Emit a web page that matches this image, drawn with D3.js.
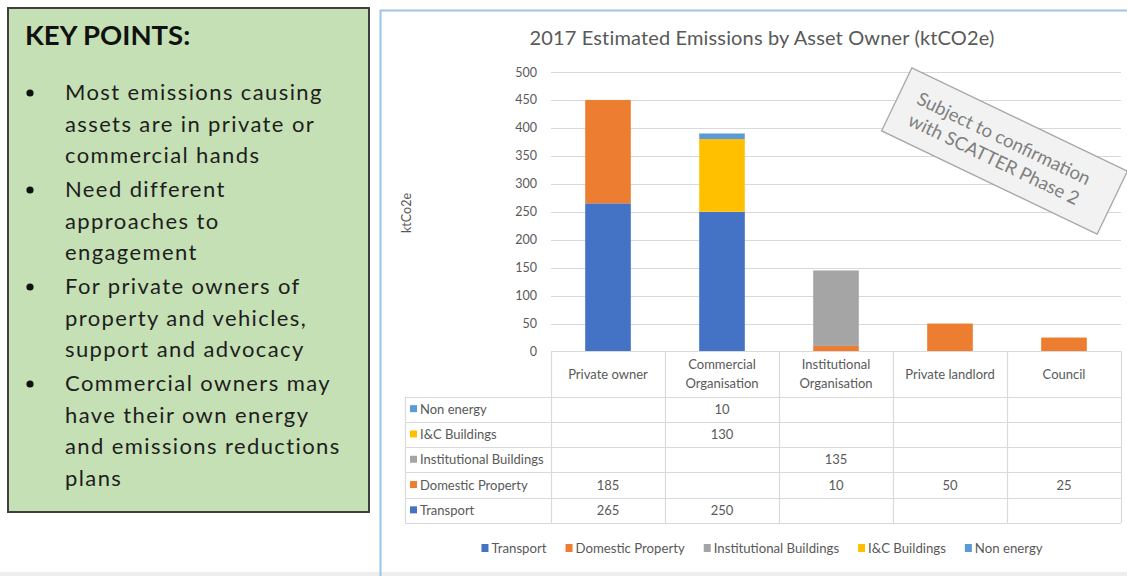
<!DOCTYPE html>
<html>
<head>
<meta charset="utf-8">
<script src="https://cdn.jsdelivr.net/npm/d3@7"></script>
<style>
  html, body { margin: 0; padding: 0; background: #ffffff; }
  svg { display: block; }
  text { font-family: Lato, "Open Sans", sans-serif; }
</style>
</head>
<body>
<svg id="chart" width="1127" height="576"></svg>
<script>
// ---------- DATA ----------
const categories = ["Private owner", "Commercial Organisation", "Institutional Organisation", "Private landlord", "Council"];
const categoryLabelLines = [["Private owner"], ["Commercial", "Organisation"], ["Institutional", "Organisation"], ["Private landlord"], ["Council"]];
const seriesNames = ["Transport", "Domestic Property", "Institutional Buildings", "I&C Buildings", "Non energy"];
const seriesColors = ["#4472c4", "#ed7d31", "#a5a5a5", "#ffc000", "#5b9bd5"];
const transport = [265, 250, null, null, null];
const domesticProperty = [185, null, 10, 50, 25];
const institutionalBuildings = [null, null, 135, null, null];
const icBuildings = [null, 130, null, null, null];
const nonEnergy = [null, 10, null, null, null];
const yTicks = [0, 50, 100, 150, 200, 250, 300, 350, 400, 450, 500];
const chartTitle = "2017 Estimated Emissions by Asset Owner (ktCO2e)";
const yAxisTitle = "ktCo2e";
const stampLines = ["Subject to confirmation", "with SCATTER Phase 2"];
const keyPointsTitle = "KEY POINTS:";
const keyPoints = [
  ["Most emissions causing", "assets are in private or", "commercial hands"],
  ["Need different", "approaches to", "engagement"],
  ["For private owners of", "property and vehicles,", "support and advocacy"],
  ["Commercial owners may", "have their own energy", "and emissions reductions", "plans"]
];

const seriesValues = [transport, domesticProperty, institutionalBuildings, icBuildings, nonEnergy];

// ---------- SETUP ----------
const svg = d3.select("#chart");
const textColor = "#595959";
const gridColor = "#d9d9d9";
const smallFont = 13.2;

// bottom grey strip of the page
svg.append("rect").attr("x", 0).attr("y", 572).attr("width", 1127).attr("height", 4).attr("fill", "#eeeeee");

// ---------- LEFT KEY POINTS BOX ----------
const kp = svg.append("g");
kp.append("rect").attr("x", 8).attr("y", 8).attr("width", 361).attr("height", 504)
  .attr("fill", "#c5e0b4").attr("stroke", "#3f3f3f").attr("stroke-width", 2);
kp.append("text").attr("x", 25).attr("y", 45).text(keyPointsTitle)
  .attr("font-size", 27.5).attr("font-weight", "bold").attr("fill", "#111");
let by = 100;
const lineH = 31.5, paraGap = 2.5;
keyPoints.forEach(para => {
  kp.append("circle").attr("cx", 30).attr("cy", by - 7).attr("r", 3.6).attr("fill", "#111");
  para.forEach((ln, i) => {
    kp.append("text").attr("x", 65).attr("y", by).text(ln)
      .attr("font-size", 22).attr("letter-spacing", 1.4).attr("fill", "#1e1e1e");
    by += lineH;
  });
  by += paraGap;
});

// ---------- CHART PANEL ----------
const panel = svg.append("g");
panel.append("line").attr("x1", 380).attr("x2", 1127).attr("y1", 10.5).attr("y2", 10.5)
  .attr("stroke", "#9dc3e6").attr("stroke-width", 2);
panel.append("line").attr("x1", 380.5).attr("x2", 380.5).attr("y1", 10).attr("y2", 576)
  .attr("stroke", "#9dc3e6").attr("stroke-width", 2);

panel.append("text").attr("x", 762).attr("y", 45).attr("text-anchor", "middle")
  .attr("font-size", 20).attr("letter-spacing", 0.15).attr("fill", textColor).text(chartTitle);

const plotLeft = 551, plotRight = 1121, plotTop = 72, plotBottom = 351.5;
const x = d3.scaleBand().domain(categories).range([plotLeft, plotRight]).paddingInner(0.6).paddingOuter(0.3);
const y = d3.scaleLinear().domain([0, 500]).range([plotBottom, plotTop]);

// gridlines
panel.append("g").selectAll("line").data(yTicks.filter(t => t > 0)).join("line")
  .attr("x1", plotLeft).attr("x2", plotRight)
  .attr("y1", d => Math.round(y(d)) + 0.5).attr("y2", d => Math.round(y(d)) + 0.5)
  .attr("stroke", gridColor).attr("stroke-width", 1.2);

// y axis labels
const yAxis = d3.axisLeft(y).tickValues(yTicks).tickSize(0).tickPadding(14);
const yg = panel.append("g").attr("transform", `translate(${plotLeft},0)`).call(yAxis);
yg.select(".domain").remove();
yg.selectAll("text").attr("font-size", 12.5).attr("fill", textColor).attr("font-family", "Lato, sans-serif");

panel.append("text").attr("transform", "translate(411,213) rotate(-90)")
  .attr("text-anchor", "middle").attr("font-size", 12.5).attr("fill", textColor).text(yAxisTitle);

// stacked bars
const rows = categories.map((c, i) => {
  const o = { category: c };
  seriesNames.forEach((s, j) => { o[s] = seriesValues[j][i] || 0; });
  return o;
});
const stack = d3.stack().keys(seriesNames)(rows);
const barG = panel.append("g");
stack.forEach((layer, j) => {
  barG.append("g").attr("fill", seriesColors[j]).selectAll("rect")
    .data(layer.filter(d => d[1] - d[0] > 0)).join("rect")
    .attr("x", d => x(d.data.category))
    .attr("width", x.bandwidth())
    .attr("y", d => y(d[1]))
    .attr("height", d => y(d[0]) - y(d[1]));
});

// ---------- DATA TABLE ----------
const tableLeft = 405, headerTop = plotBottom, headerBottom = 396.5, rowH = 25.3;
const tableRows = seriesNames.slice().reverse();
const tableBottom = headerBottom + rowH * tableRows.length;
const tg = panel.append("g");
const colEdges = categories.map(c => x(c) - x.step() * x.paddingInner() / 2).concat([plotRight]);
colEdges.forEach(xe => {
  tg.append("line").attr("x1", Math.round(xe) + 0.5).attr("x2", Math.round(xe) + 0.5)
    .attr("y1", headerTop).attr("y2", tableBottom).attr("stroke", gridColor).attr("stroke-width", 1.2);
});
tg.append("line").attr("x1", tableLeft + 0.5).attr("x2", tableLeft + 0.5)
  .attr("y1", headerBottom).attr("y2", tableBottom).attr("stroke", gridColor).attr("stroke-width", 1.2);
tg.append("line").attr("x1", plotLeft).attr("x2", plotRight).attr("y1", headerTop).attr("y2", headerTop)
  .attr("stroke", gridColor).attr("stroke-width", 1.2);
d3.range(tableRows.length + 1).forEach(k => {
  const yy = Math.round(headerBottom + k * rowH) + 0.5;
  tg.append("line").attr("x1", tableLeft).attr("x2", plotRight).attr("y1", yy).attr("y2", yy)
    .attr("stroke", gridColor).attr("stroke-width", 1.2);
});
categories.forEach((c, i) => {
  const lines = categoryLabelLines[i];
  const cx = x(c) + x.bandwidth() / 2;
  const cy = (headerTop + headerBottom) / 2;
  lines.forEach((ln, k) => {
    tg.append("text").attr("x", cx).attr("y", cy + (k - (lines.length - 1) / 2) * 18.5)
      .attr("dy", "0.35em").attr("text-anchor", "middle")
      .attr("font-size", 13).attr("fill", textColor).text(ln);
  });
});
tableRows.forEach((s, r) => {
  const j = seriesNames.indexOf(s);
  const cy = headerBottom + r * rowH + rowH / 2;
  tg.append("rect").attr("x", 410).attr("y", cy - 4).attr("width", 7).attr("height", 7).attr("fill", seriesColors[j]);
  tg.append("text").attr("x", 420).attr("y", cy).attr("dy", "0.35em")
    .attr("font-size", 13).attr("fill", textColor).text(s);
  seriesValues[j].forEach((v, i) => {
    if (v == null) return;
    tg.append("text").attr("x", x(categories[i]) + x.bandwidth() / 2).attr("y", cy).attr("dy", "0.35em")
      .attr("text-anchor", "middle").attr("font-size", 13).attr("fill", textColor).text(v);
  });
});

// ---------- LEGEND ----------
const lg = panel.append("g");
const legendY = 548;
const legendGap = 19;
const items = [];
seriesNames.forEach((s, j) => {
  const g = lg.append("g");
  g.append("rect").attr("x", 0).attr("y", legendY - 4).attr("width", 7).attr("height", 8).attr("fill", seriesColors[j]);
  const t = g.append("text").attr("x", 10).attr("y", legendY).attr("dy", "0.35em")
    .attr("font-size", smallFont).attr("fill", textColor).text(s);
  const w = 10 + t.node().getComputedTextLength();
  items.push({ g, w });
});
const totalW = d3.sum(items, d => d.w) + legendGap * (items.length - 1);
let lx = 762 - totalW / 2;
items.forEach(it => { it.g.attr("transform", `translate(${lx},0)`); lx += it.w + legendGap; });

// ---------- STAMP ----------
const stamp = panel.append("g").attr("transform", "translate(1004.5,151) rotate(25.6)");
stamp.append("rect").attr("x", -119.5).attr("y", -35).attr("width", 239).attr("height", 70)
  .attr("fill", "#f2f2f2").attr("stroke", "#a6a6a6").attr("stroke-width", 1.3);
stampLines.forEach((ln, k) => {
  stamp.append("text").attr("x", -6).attr("y", k === 0 ? -11 : 12).attr("dy", "0.35em")
    .attr("text-anchor", "middle").attr("font-size", 18.5).attr("fill", "#7f7f7f").text(ln);
});
</script>
</body>
</html>
